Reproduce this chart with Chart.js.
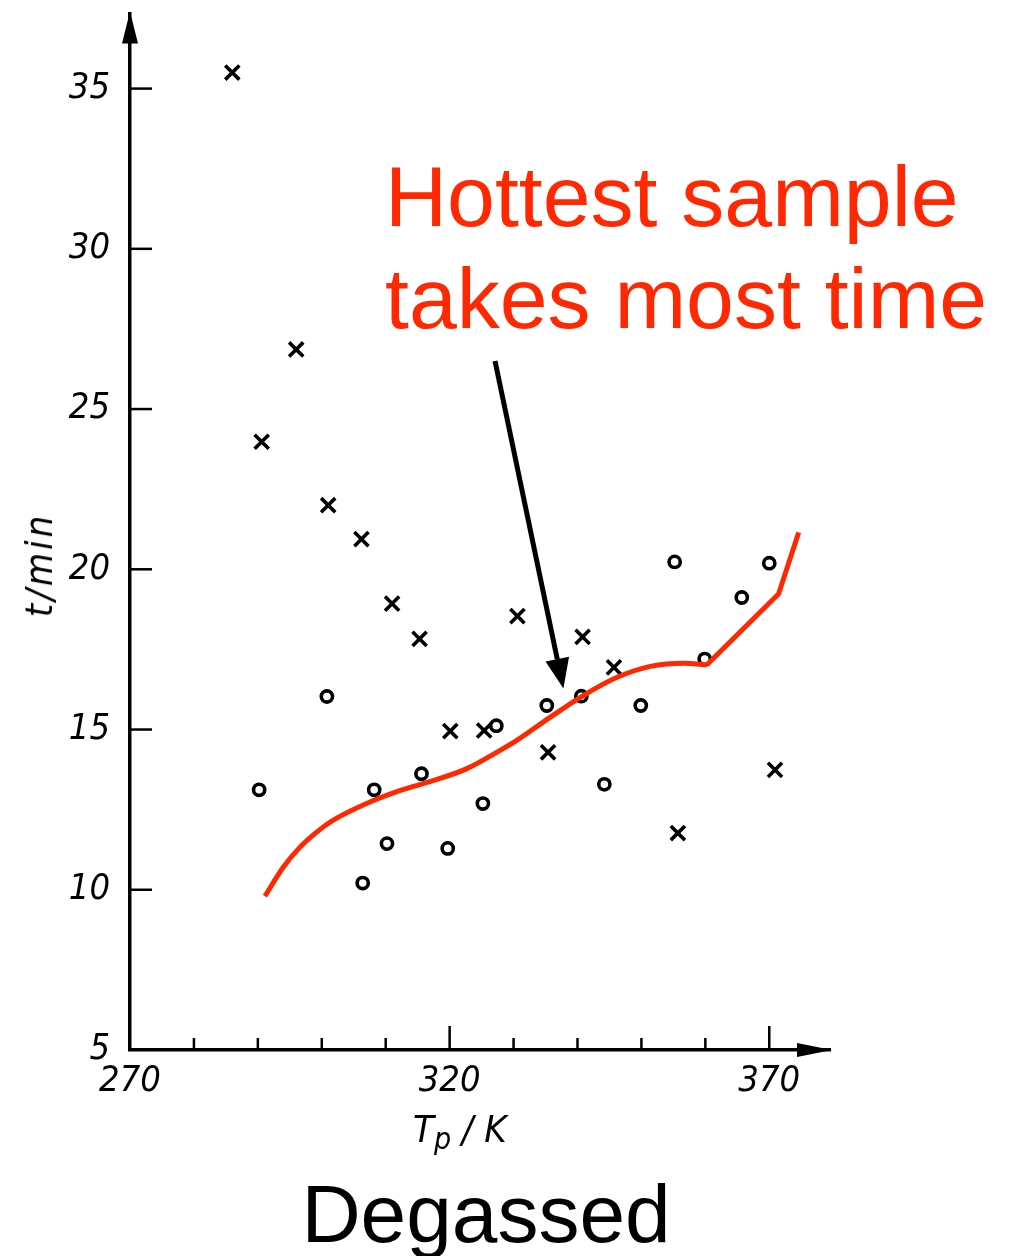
<!DOCTYPE html>
<html>
<head>
<meta charset="utf-8">
<script src="https://cdn.jsdelivr.net/npm/chart.js@4.4.1/dist/chart.umd.min.js"></script>
<style>
  body { margin: 0; background: #fff; }
  #wrap { position: relative; width: 1017px; height: 1256px; overflow: hidden; background: #fff; }
  #chart { position: absolute; left: 0; top: 0; }
  .txt { position: absolute; white-space: nowrap; margin: 0; }
  #note { left: 385px; top: 145px; font: 86px/102px "Liberation Sans", Arial, sans-serif; color: #ff2800; }
  #caption { left: 486px; top: 1173px; transform: translateX(-50%); font: 82px/82px "Liberation Sans", Arial, sans-serif; color: #000; }
  #xtitle { left: 413px; top: 1110px; font: italic 38px/38px "Liberation Sans Narrow", "DejaVu Sans Condensed", sans-serif; color: #000; }
  #xtitle span { font-size: 30px; position: relative; top: 7px; }
  #ytitle { left: 39px; top: 565px; transform: translate(-50%, -50%) rotate(-90deg); font: italic 38px/38px "Liberation Sans Narrow", "DejaVu Sans Condensed", sans-serif; letter-spacing: 3px; color: #000; }
</style>
</head>
<body>
<div id="wrap">
  <canvas id="chart" width="1017" height="1256"></canvas>
  <div class="txt" id="note">Hottest sample<br>takes most time</div>
  <div class="txt" id="xtitle">T<span>p</span> / K</div>
  <div class="txt" id="ytitle">t/min</div>
  <div class="txt" id="caption">Degassed</div>
</div>
<script>
// axis ranges
const xMin = 270, xMax = 379.5;
const yMin = 5, yMax = 37.34;
const xLabels = [270, 320, 370];

// x marks
const crossT = [286.0, 296.0, 290.6, 301.0, 306.2, 311.0, 315.3, 330.6, 340.8, 345.7, 320.1, 325.4, 335.4, 355.7, 370.9];
const crossTime = [35.5, 26.86, 23.98, 22.0, 20.94, 18.93, 17.83, 18.54, 17.89, 16.94, 14.95, 14.97, 14.29, 11.77, 13.74];

// o marks
const circleT = [290.2, 300.8, 308.2, 306.4, 310.2, 315.6, 319.7, 325.2, 327.3, 335.2, 340.6, 344.2, 349.9, 355.2, 359.9, 365.7, 370.0];
const circleTime = [13.12, 16.03, 13.12, 10.21, 11.44, 13.62, 11.29, 12.69, 15.12, 15.75, 16.04, 13.29, 15.75, 20.23, 17.2, 19.12, 20.19];

// red hand-drawn curve: smooth part, then straight tail
const curveT = [291.1, 294.0, 296.6, 299.2, 301.8, 307.0, 312.3, 317.5, 322.7, 327.9, 330.5, 335.7, 340.9, 346.2, 351.4, 356.6, 360.25];
const curveTime = [9.80, 10.71, 11.33, 11.80, 12.17, 12.69, 13.10, 13.41, 13.78, 14.35, 14.66, 15.38, 16.06, 16.63, 16.97, 17.07, 17.02];
const tailT = [360.25, 371.45, 374.6];
const tailTime = [17.02, 19.23, 21.15];

// annotation arrow (data coords)
const arrowFrom = [327.1, 26.5];
const arrowTo = [337.8, 16.28];

const red = '#ff2800';

function pts(xs, ys) {
    return xs.map((v, i) => ({ x: v, y: ys[i] }));
}

function line(ctx, x1, y1, x2, y2) {
    ctx.beginPath();
    ctx.moveTo(x1, y1);
    ctx.lineTo(x2, y2);
    ctx.stroke();
}

const decorations = {
    id: 'decorations',
    afterDatasetsDraw(chart) {
        const { ctx, chartArea: a, scales: { x, y } } = chart;
        ctx.save();
        ctx.strokeStyle = '#000';
        ctx.fillStyle = '#000';
        ctx.lineWidth = 2.5;

        // inward tick marks
        y.ticks.forEach(t => {
            if (t.value === yMin) return;
            const py = y.getPixelForValue(t.value);
            line(ctx, a.left, py, a.left + 22, py);
        });
        x.ticks.forEach(t => {
            if (t.value === xMin) return;
            const px = x.getPixelForValue(t.value);
            const len = xLabels.includes(t.value) ? 24 : 12;
            line(ctx, px, a.bottom, px, a.bottom - len);
        });

        // axis arrow heads
        ctx.beginPath();
        ctx.moveTo(a.left, a.top - 2);
        ctx.lineTo(a.left - 8, a.top + 30);
        ctx.lineTo(a.left + 8, a.top + 30);
        ctx.closePath();
        ctx.fill();
        ctx.beginPath();
        ctx.moveTo(a.right + 2, a.bottom);
        ctx.lineTo(a.right - 33, a.bottom - 7);
        ctx.lineTo(a.right - 33, a.bottom + 7);
        ctx.closePath();
        ctx.fill();

        // annotation arrow
        const x1 = x.getPixelForValue(arrowFrom[0]), y1 = y.getPixelForValue(arrowFrom[1]);
        const x2 = x.getPixelForValue(arrowTo[0]), y2 = y.getPixelForValue(arrowTo[1]);
        const ang = Math.atan2(y2 - y1, x2 - x1);
        const headLen = 30, headW = 12;
        const bx = x2 - headLen * Math.cos(ang), by = y2 - headLen * Math.sin(ang);
        ctx.lineWidth = 5;
        line(ctx, x1, y1, bx, by);
        ctx.beginPath();
        ctx.moveTo(x2, y2);
        ctx.lineTo(bx + headW * Math.sin(ang), by - headW * Math.cos(ang));
        ctx.lineTo(bx - headW * Math.sin(ang), by + headW * Math.cos(ang));
        ctx.closePath();
        ctx.fill();
        ctx.restore();
    }
};

const tickFont = { family: '"Liberation Sans Narrow", "DejaVu Sans Condensed", sans-serif', size: 36, style: 'italic' };

function fixPadding(scale) {
    scale.paddingTop = 0;
    scale.paddingBottom = 0;
    scale.paddingLeft = 0;
    scale.paddingRight = 0;
}

new Chart(document.getElementById('chart'), {
    type: 'scatter',
    data: {
        datasets: [
            {
                data: pts(curveT, curveTime),
                showLine: true,
                borderColor: red,
                borderWidth: 5,
                pointRadius: 0,
                cubicInterpolationMode: 'monotone'
            },
            {
                data: pts(tailT, tailTime),
                showLine: true,
                borderColor: red,
                borderWidth: 5,
                pointRadius: 0,
                tension: 0,
                borderJoinStyle: 'round'
            },
            {
                data: pts(crossT, crossTime),
                pointStyle: 'crossRot',
                pointRadius: 10,
                pointBorderColor: '#000',
                pointBorderWidth: 3.6
            },
            {
                data: pts(circleT, circleTime),
                pointStyle: 'circle',
                pointRadius: 5.6,
                pointBorderColor: '#000',
                pointBackgroundColor: 'rgba(0,0,0,0)',
                pointBorderWidth: 3.6
            }
        ]
    },
    options: {
        responsive: false,
        animation: false,
        devicePixelRatio: 1,
        layout: { padding: { left: 0, right: 187, top: 12, bottom: 0 } },
        plugins: {
            legend: { display: false },
            tooltip: { enabled: false }
        },
        scales: {
            x: {
                type: 'linear',
                min: xMin,
                max: xMax,
                grid: { display: false, drawTicks: false },
                border: { display: true, color: '#000', width: 3.5 },
                ticks: {
                    stepSize: 10,
                    includeBounds: false,
                    maxRotation: 0,
                    autoSkip: false,
                    padding: 10,
                    color: '#000',
                    font: tickFont,
                    callback: v => xLabels.includes(v) ? String(v) : ''
                },
                afterFit(scale) {
                    scale.height = 206;
                    fixPadding(scale);
                }
            },
            y: {
                type: 'linear',
                min: yMin,
                max: yMax,
                grid: { display: false, drawTicks: false },
                border: { display: true, color: '#000', width: 3.5 },
                ticks: {
                    stepSize: 5,
                    includeBounds: false,
                    padding: 20,
                    color: '#000',
                    font: tickFont
                },
                afterFit(scale) {
                    scale.width = 130;
                    fixPadding(scale);
                }
            }
        }
    },
    plugins: [decorations]
});
</script>
</body>
</html>
